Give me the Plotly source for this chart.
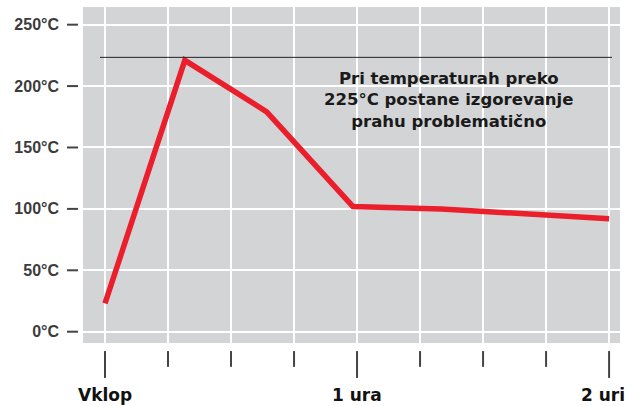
import plotly.graph_objects as go

# Data (minutes since start, temperature in °C)
time_min = [0, 19, 38.5, 59, 80, 120]
temp_c = [23, 221, 179, 102, 100, 92]

threshold = 223.4
threshold_x = [-1.2, 120.7]

y_ticks = [0, 50, 100, 150, 200, 250]
y_labels = ["0°C", "50°C", "100°C", "150°C", "200°C", "250°C"]

x_ticks = [0, 60, 120]
x_labels = ["Vklop", "1 ura", "2 uri"]
x_label_shift = [0, 0, -6]
x_minor = [15, 30, 45, 75, 90, 105]

note = "Pri temperaturah preko<br>225°C postane izgorevanje<br>prahu problematično"

FONT = "Liberation Sans"
HEAVY = "DejaVu Sans"

fig = go.Figure()
fig.add_trace(go.Scatter(x=time_min, y=temp_c, mode="lines",
                         line=dict(color="#ea1f2b", width=5.5),
                         hoverinfo="skip", showlegend=False))

shapes = []
shapes.append(dict(type="line", xref="x", yref="y", x0=threshold_x[0], x1=threshold_x[1],
                   y0=threshold, y1=threshold, line=dict(color="#222", width=1)))
for v in x_ticks:
    shapes.append(dict(type="line", xref="x", yref="paper", x0=v, x1=v, y0=-0.024, y1=-0.104,
                       line=dict(color="#444", width=2)))
for v in x_minor:
    shapes.append(dict(type="line", xref="x", yref="paper", x0=v, x1=v, y0=-0.024, y1=-0.071,
                       line=dict(color="#444", width=2)))
for v in y_ticks:
    shapes.append(dict(type="line", xref="paper", yref="y", x0=-0.0298, x1=-0.0093, y0=v, y1=v,
                       line=dict(color="#444", width=2)))

annotations = [dict(x=81.7, y=188.7, xref="x", yref="y", text="<b>%s</b>" % note,
                    showarrow=False, align="center",
                    font=dict(family=HEAVY, size=16.5, color="#1a1a1a"))]
for v, lab, sh in zip(x_ticks, x_labels, x_label_shift):
    annotations.append(dict(x=v, y=-0.155, xref="x", yref="paper", text="<b>%s</b>" % lab,
                            showarrow=False, xanchor="center", yanchor="middle", xshift=sh,
                            font=dict(family=HEAVY, size=17, color="#111")))

fig.update_layout(
    width=632, height=406,
    margin=dict(l=83, r=12, t=7, b=63, autoexpand=False),
    paper_bgcolor="white", plot_bgcolor="#d3d4d6",
    shapes=shapes,
    showlegend=False,
    xaxis=dict(range=[-5.24, 122.6], tickmode="array",
               tickvals=[0, 15, 30, 45, 60, 75, 90, 105, 120],
               showticklabels=False, automargin=False,
               showgrid=True, gridcolor="white", gridwidth=1.5,
               zeroline=False, showline=False, ticks=""),
    yaxis=dict(range=[-9.2, 264.4], tickmode="array", tickvals=y_ticks,
               ticktext=["<b>%s</b>" % t for t in y_labels], automargin=False,
               showgrid=True, gridcolor="white", gridwidth=1.5,
               zeroline=False, showline=False, ticks="",
               ticklabelstandoff=23,
               tickfont=dict(family=FONT, size=16, color="#3c3c3c")),
    annotations=annotations,
)

fig.write_html("out.html", config={"displayModeBar": False},
               post_script="document.body.style.margin='0';document.body.style.padding='0';")
